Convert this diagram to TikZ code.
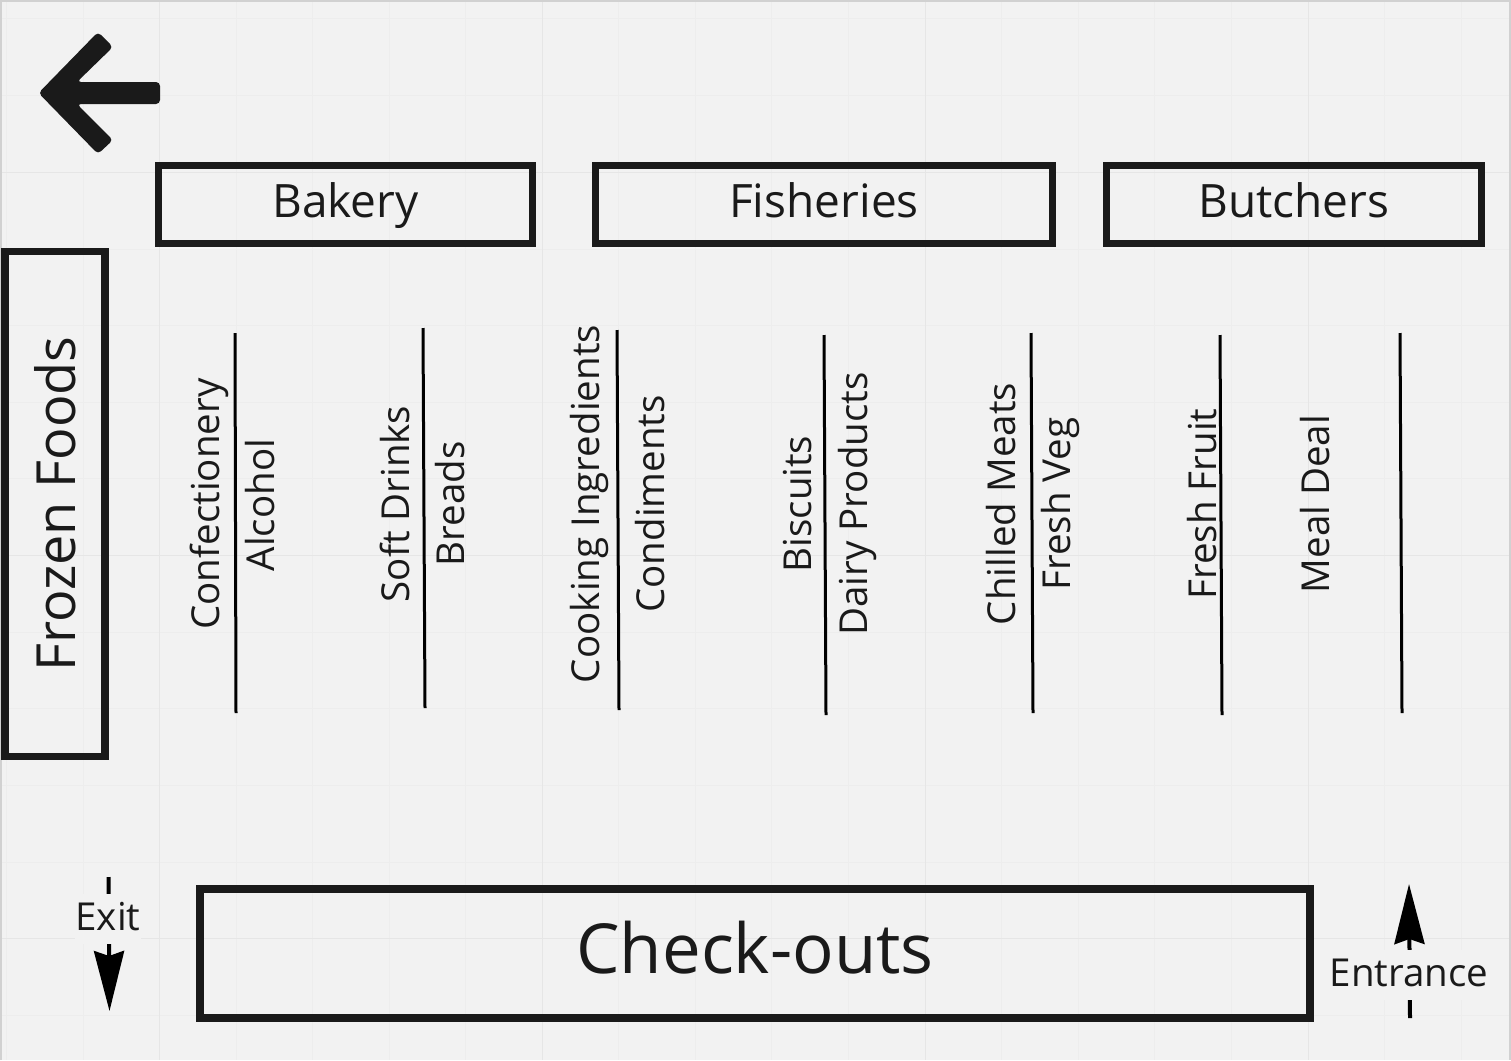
\documentclass[tikz,border=0pt]{standalone}
\usepackage{fontspec}
\setmainfont{Open Sans}
\usepackage{xcolor}
\usetikzlibrary{arrows.meta}
\definecolor{ink}{HTML}{1A1A1A}
\definecolor{paper}{HTML}{F2F2F2}
\definecolor{gridmajor}{HTML}{E6E6E6}
\definecolor{gridminor}{HTML}{EDEDED}
\begin{document}
\begin{tikzpicture}[
x=1pt,
y=-1pt,
every node/.style={text=ink,inner sep=0pt},
counter/.style={rectangle,draw=ink,line width=7.5pt,minimum width=#1,minimum height=78pt,text height=35pt,text depth=9pt,font=\fontsize{46}{50}\selectfont},
freezer/.style={rectangle,draw=ink,line width=7.5pt,rotate=90,minimum width=505pt,minimum height=100pt,font=\fontsize{54}{58}\selectfont},
tills/.style={rectangle,draw=ink,line width=8pt,minimum width=1110pt,minimum height=129pt,text height=50pt,text depth=10pt,font=\fontsize{69}{74}\selectfont},
aislelbl/.style={rotate=90,font=\fontsize{38.5}{44}\selectfont},
doorlbl/.style={fill=paper,inner xsep=1pt,text height=36pt,text depth=14pt,font=\fontsize{38.5}{42}\selectfont},
aisle/.style={line width=3pt,draw=black},
door/.style={line width=4pt,draw=black,-{Stealth[length=60pt,width=30pt,inset=5pt]}},
gridmaj/.style={draw=gridmajor,line width=1pt},
gridmin/.style={draw=gridminor,line width=1pt}
]
\useasboundingbox (0,0) rectangle (1511,1060);
\fill[paper] (0,0) rectangle (1511,1060);
\foreach \gx in {6,83,236,312,389,465,618,695,771,848,1001,1078,1154,1231,1384,1461}
  \draw[gridmin] (\gx,0) -- (\gx,1060);
\foreach \gy in {18,95,249,325,402,478,632,708,785,862,1015}
  \draw[gridmin] (0,\gy) -- (1511,\gy);
\foreach \gx in {159,542,925,1308}
  \draw[gridmaj] (\gx,0) -- (\gx,1060);
\foreach \gy in {172,555,938}
  \draw[gridmaj] (0,\gy) -- (1511,\gy);
\draw[draw=black!18,line width=2pt] (1,1060) -- (1,1) -- (1510,1) -- (1510,1060);

\fill[ink,rounded corners=4pt] (38.5,93) -- (98,32) -- (113,47) -- (77,82) -- (160,82) -- (160,104) -- (77,104) -- (113,140) -- (98,154) -- cycle;

\node[counter=374pt] (bakery) at (345.5,204.5) {Bakery};
\node[counter=457pt] (fisheries) at (824,204.5) {Fisheries};
\node[counter=375pt] (butchers) at (1294,204.5) {Butchers};
\node[freezer] (frozen) at (55,504) {Frozen Foods};
\node[tills] (checkouts) at (755,953) {Check-outs};

\node[aislelbl] (confectionery) at (209,504) {Confectionery};
\node[aislelbl] (alcohol) at (260,505) {Alcohol};
\node[aislelbl] (softdrinks) at (395,504) {Soft Drinks};
\node[aislelbl] (breads) at (450,504) {Breads};
\node[aislelbl] (cooking) at (589,504) {Cooking Ingredients};
\node[aislelbl] (condiments) at (650,504) {Condiments};
\node[aislelbl] (biscuits) at (798,504) {Biscuits};
\node[aislelbl] (dairy) at (857,504) {Dairy Products};
\node[aislelbl] (chilled) at (1001,504) {Chilled Meats};
\node[aislelbl] (freshveg) at (1060,504) {Fresh Veg};
\node[aislelbl] (freshfruit) at (1202,504) {Fresh Fruit};
\node[aislelbl] (mealdeal) at (1315,504) {Meal Deal};

\draw[aisle] (235,333) -- (236,713);
\draw[aisle] (423,328) -- (425,708);
\draw[aisle] (617,330) -- (619,710);
\draw[aisle] (824,335) -- (826,715);
\draw[aisle] (1031,333) -- (1033,713);
\draw[aisle] (1220,335) -- (1222,715);
\draw[aisle] (1400,333) -- (1402,713);

\coordinate (exittop) at (108.5,877);
\coordinate (exitend) at (109.5,1011);
\coordinate (entrybot) at (1410,1018);
\coordinate (entryend) at (1409,884);
\draw[door] (exittop) -- (exitend);
\draw[door] (entrybot) -- (entryend);
\node[doorlbl] (exitlbl) at (108,919) {Exit};
\node[doorlbl] (entrylbl) at (1409,975) {Entrance};
\end{tikzpicture}
\end{document}
